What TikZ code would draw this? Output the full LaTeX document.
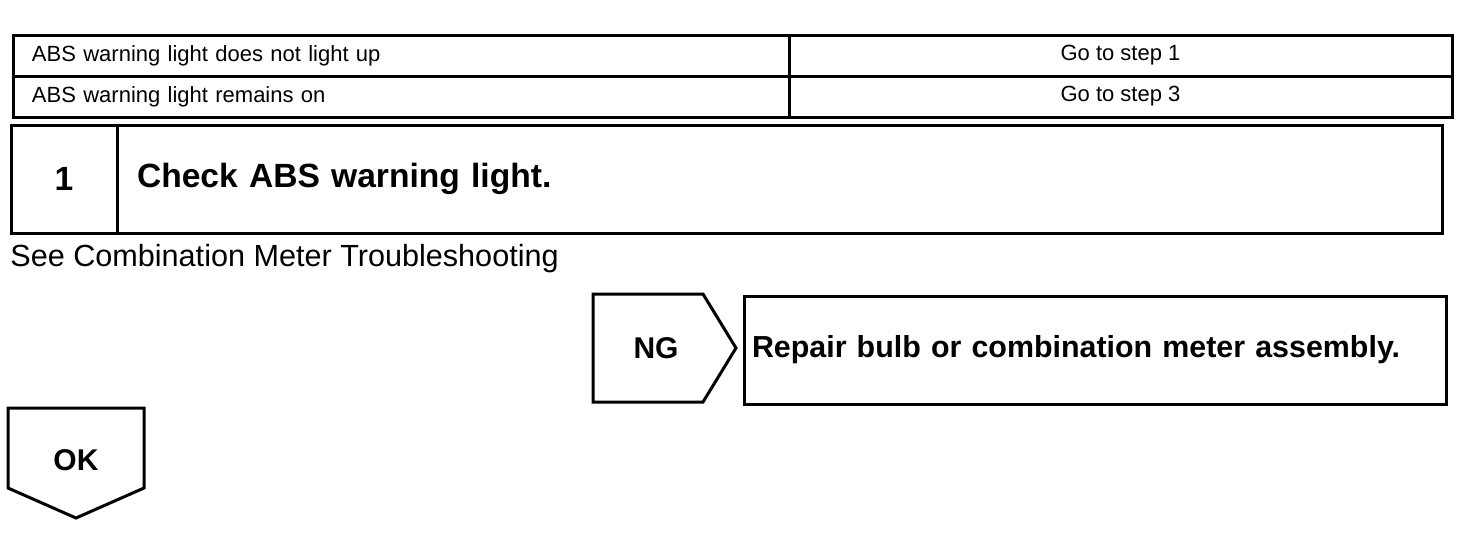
\documentclass[tikz,border=0pt]{standalone}
\usepackage{fontspec}
\setmainfont{Liberation Sans}
\usepackage{tikz}
\usetikzlibrary{
    positioning,
    calc
}
\tikzset{
    tablecell/.style={
        draw,
        line width=1.5pt,
        outer sep=0pt,
        inner ysep=0pt,
        minimum height=20.5pt,
        font=\fontsize{11}{13}\selectfont
    }
}
\tikzset{
    stepcell/.style={
        draw,
        line width=1.5pt,
        outer sep=0pt,
        inner ysep=0pt,
        minimum height=54pt,
        font=\fontsize{16.8}{20}\selectfont\bfseries
    }
}
\tikzset{
    resultbox/.style={
        draw,
        line width=1.5pt,
        outer sep=0pt,
        inner ysep=0pt,
        minimum height=54pt,
        font=\fontsize{15.2}{18}\selectfont\bfseries
    }
}
\tikzset{
    outline/.style={
        draw,
        line width=1.5pt,
        line join=miter
    }
}
\tikzset{
    marker/.style={
        inner sep=0pt,
        font=\fontsize{15}{18}\selectfont\bfseries
    }
}

\begin{document}
\begin{tikzpicture}[
    x=0.5pt,
    y=-0.5pt
]
\useasboundingbox (0,0) rectangle (1472,532);

% symptom table
\node[tablecell, anchor=north west, inner xsep=9.5pt, text width=369pt, align=left] (sym1) at (13,35)
    {ABS warning light does not light up};
\node[tablecell, right=0pt of sym1, minimum width=331.5pt] (go1) {Go to step 1};
\node[tablecell, below=0pt of sym1, inner xsep=9.5pt, text width=369pt, align=left] (sym2)
    {ABS warning light remains on};
\node[tablecell, right=0pt of sym2, minimum width=331.5pt] (go3) {Go to step 3};

% step 1
\node[stepcell, anchor=north west, minimum width=53pt] (stepno) at (11,125) {1};
\node[stepcell, right=0pt of stepno, inner xsep=10pt, text width=642.5pt, align=left] (steptitle)
    {Check ABS warning light.};

\node[anchor=base west, inner sep=0pt, font=\fontsize{15.3}{18}\selectfont] (seenote) at (10,266)
    {See Combination Meter Troubleshooting};

% NG branch
\draw[outline] (593,294) -- (703,294) -- (736,348) -- (703,402) -- (593,402) -- cycle;
\node[marker] (ng) at (656,348) {NG};
\node[resultbox, anchor=north west, inner xsep=4pt, text width=343pt, align=left] (repair) at (744,296)
    {Repair bulb or combination meter assembly.};

% OK branch
\draw[outline] (8,408) -- (144,408) -- (144,488) -- (76,518) -- (8,488) -- cycle;
\node[marker] (ok) at (76,460) {OK};

\end{tikzpicture}
\end{document}
